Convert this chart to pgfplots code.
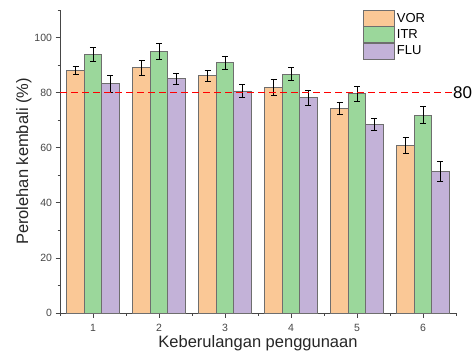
\documentclass[border=0pt]{standalone}
\usepackage{fontspec}
\setmainfont{Liberation Sans}
\usepackage{pgfplots}
\usepackage{pgfplotstable}
\pgfplotsset{compat=1.18}

\definecolor{vorfill}{RGB}{250,200,150}
\definecolor{itrfill}{RGB}{155,215,155}
\definecolor{flufill}{RGB}{195,178,216}
\definecolor{edgegray}{RGB}{110,110,110}
\definecolor{axisgray}{RGB}{70,70,70}

% cycle, mean recovery (%), standard deviation
\pgfplotstableread{
x  vor  vore  itr  itre  flu  flue
1  88.1 1.5   93.8 2.5   83.3 3.1
2  89.0 2.8   95.0 2.9   85.0 2.0
3  86.1 2.0   90.8 2.5   80.6 2.4
4  81.9 2.8   86.7 2.4   78.1 2.8
5  74.2 2.1   79.7 2.7   68.4 2.2
6  60.8 3.0   71.8 3.1   51.3 3.6
}\recovery

\begin{document}
\begin{tikzpicture}
\begin{axis}[
  name=ax,
  scale only axis,
  width=396pt, height=303pt,
  xmin=0.5, xmax=6.5,
  ymin=0, ymax=110,
  axis x line*=bottom,
  axis y line*=left,
  axis line style={axisgray, line width=0.9pt},
  xtick={1,...,6},
  minor xtick={0.5,1.5,...,6.5},
  ytick={0,20,...,100},
  minor ytick={10,30,...,110},
  tick align=outside,
  major tick length=4.5pt,
  minor tick length=2.5pt,
  tick style={axisgray, line width=0.8pt},
  ticklabel style={font=\fontsize{10.5}{12}\selectfont, text=axisgray},
  xticklabel style={yshift=-3pt},
  /pgf/number format/assume math mode=true,
  xlabel={Keberulangan penggunaan},
  ylabel={Perolehan kembali (\%)},
  label style={font=\fontsize{16.5}{19}\selectfont, text=black!85},
  xlabel style={yshift=3pt},
  ylabel style={yshift=-4pt},
  ybar, bar width=0.265,
  clip=false,
  legend style={draw=none, fill=none, at={(rel axis cs:0.765,1.0)}, anchor=north west,
    font=\fontsize{13}{15}\selectfont, row sep=-0.5pt, inner sep=0pt,
    cells={anchor=west}},
  legend image code/.code={\draw[#1, line width=0.8pt] (0pt,-8pt) rectangle (31pt,8pt);},
  error bars/y dir=both,
  error bars/y explicit,
  error bars/error bar style={black, line width=0.8pt},
  error bars/error mark options={rotate=90, mark size=3pt, line width=0.8pt, black},
]
\addplot[fill=vorfill, draw=edgegray, line width=0.8pt, bar shift=-0.265]
  table[x=x, y=vor, y error=vore] {\recovery};
\addlegendentry{VOR}
\addplot[fill=itrfill, draw=edgegray, line width=0.8pt, bar shift=0]
  table[x=x, y=itr, y error=itre] {\recovery};
\addlegendentry{ITR}
\addplot[fill=flufill, draw=edgegray, line width=0.8pt, bar shift=0.265]
  table[x=x, y=flu, y error=flue] {\recovery};
\addlegendentry{FLU}

% 80 % reference level
\draw[red, line width=0.9pt, dash pattern=on 6.5pt off 4.5pt]
  (axis cs:0.5,80) -- (axis cs:6.45,80);
\node[anchor=west, inner sep=0pt, font=\fontsize{17}{19}\selectfont]
  at ([xshift=-3pt]axis cs:6.5,80) {80};
\end{axis}
\pgfresetboundingbox
\path ([shift={(-60pt,-43pt)}]ax.south west) rectangle ([shift={(17pt,10pt)}]ax.north east);
\end{tikzpicture}
\end{document}
